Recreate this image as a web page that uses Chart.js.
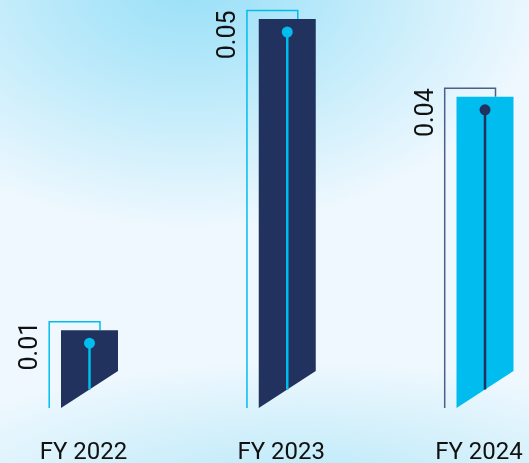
<!DOCTYPE html>
<html lang="en">
<head>
    <meta charset="UTF-8">
    <title>EPS chart</title>
    <style>
        html, body {
            margin: 0;
            padding: 0;
        }
        body {
            width: 529px;
            height: 463px;
            overflow: hidden;
            background:
                radial-gradient(ellipse 360px 250px at 190px -20px, #98dff7 0%, rgba(160,226,248,0.75) 35%, rgba(238,248,254,0) 100%),
                radial-gradient(ellipse 420px 140px at 300px 500px, #b6e7f8 0%, rgba(190,234,249,0.6) 50%, rgba(238,248,254,0) 100%),
                #eff8fe;
        }
        .chart-box {
            position: relative;
            width: 529px;
            height: 463px;
        }
    </style>
    <script src="https://cdn.jsdelivr.net/npm/chart.js"></script>
</head>
<body>
    <div class="chart-box">
        <canvas id="epsChart"></canvas>
    </div>
    <script>
        const categories = ['FY 2022', 'FY 2023', 'FY 2024'];
        const values = [0.01, 0.05, 0.04];
        const valueLabels = ['0.01', '0.05', '0.04'];

        const navy = '#22325f';
        const cyan = '#00bcef';
        const fillColors = [navy, navy, cyan];
        const accentColors = [cyan, cyan, navy];
        const outlineColors = [cyan, cyan, '#4d5d8c'];

        // draws the cut-corner bars, bracket outline, stem + dot and rotated value
        const fancyBars = {
            id: 'fancyBars',
            afterDatasetsDraw(chart) {
                const ctx = chart.ctx;
                const meta = chart.getDatasetMeta(0);
                const yScale = chart.scales.y;
                const zero = yScale.getPixelForValue(0);
                meta.data.forEach((el, i) => {
                    const cx = el.x;
                    const top = el.y;
                    const barL = cx - 22.5, barR = cx + 34.5;
                    const cut = 37;
                    const outL = cx - 34.3, outR = cx + 16.5, outT = top - 8.5;

                    ctx.save();
                    // outline bracket
                    ctx.strokeStyle = outlineColors[i];
                    ctx.lineWidth = 1.5;
                    ctx.beginPath();
                    ctx.moveTo(outL, zero);
                    ctx.lineTo(outL, outT);
                    ctx.lineTo(outR, outT);
                    ctx.lineTo(outR, top);
                    ctx.stroke();

                    // bar with cut bottom
                    ctx.fillStyle = fillColors[i];
                    ctx.beginPath();
                    ctx.moveTo(barL, top);
                    ctx.lineTo(barR, top);
                    ctx.lineTo(barR, zero - cut);
                    ctx.lineTo(barL, zero);
                    ctx.closePath();
                    ctx.fill();

                    // stem and dot
                    const sx = cx + 6;
                    const sBottom = zero - cut * (sx - barL) / (barR - barL);
                    const dotY = top + 13;
                    ctx.strokeStyle = accentColors[i];
                    ctx.lineWidth = 2.5;
                    ctx.beginPath();
                    ctx.moveTo(sx, dotY);
                    ctx.lineTo(sx, sBottom);
                    ctx.stroke();
                    ctx.fillStyle = accentColors[i];
                    ctx.beginPath();
                    ctx.arc(sx, dotY, 5.5, 0, Math.PI * 2);
                    ctx.fill();

                    // value label
                    ctx.translate(outL - 12, outT);
                    ctx.rotate(-Math.PI / 2);
                    ctx.fillStyle = '#111111';
                    ctx.font = '25px Roboto';
                    ctx.textAlign = 'right';
                    ctx.textBaseline = 'alphabetic';
                    ctx.fillText(valueLabels[i], 0, 0);
                    ctx.restore();
                });
            }
        };

        new Chart(document.getElementById('epsChart'), {
            type: 'bar',
            data: {
                labels: categories,
                datasets: [{
                    data: values,
                    backgroundColor: 'rgba(0,0,0,0)'
                }]
            },
            options: {
                responsive: true,
                maintainAspectRatio: false,
                animation: false,
                layout: {
                    padding: { top: 19, left: 83.5, right: 50, bottom: 0 }
                },
                plugins: {
                    legend: { display: false },
                    tooltip: { enabled: false }
                },
                scales: {
                    x: {
                        offset: false,
                        grid: { display: false, drawTicks: false },
                        border: { display: false },
                        ticks: {
                            color: '#111111',
                            font: { family: 'Roboto', size: 24 },
                            padding: 31,
                            maxRotation: 0
                        },
                        afterFit(scale) {
                            scale.height = 55;
                            scale.paddingLeft = 0;
                            scale.paddingRight = 0;
                        }
                    },
                    y: {
                        display: false,
                        min: 0,
                        max: 0.05
                    }
                }
            },
            plugins: [fancyBars]
        });
    </script>
</body>
</html>
